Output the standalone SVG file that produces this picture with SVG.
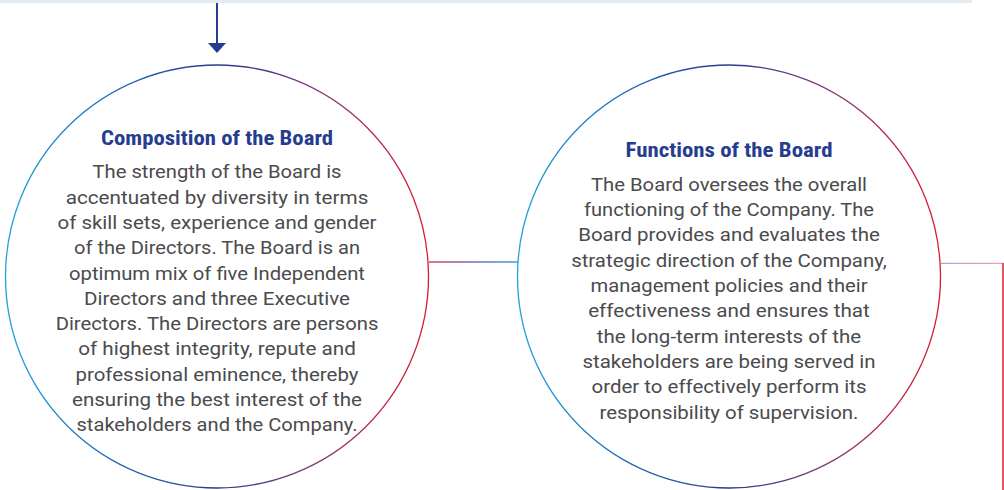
<svg xmlns="http://www.w3.org/2000/svg" width="1004" height="490" viewBox="0 0 1004 490">
<defs>
<linearGradient id="ring" x1="0" y1="0" x2="1" y2="0">
<stop offset="0" stop-color="#1ba3de"/>
<stop offset="0.5" stop-color="#2b3a8f"/>
<stop offset="0.75" stop-color="#8a3a78"/>
<stop offset="1" stop-color="#dc1c2c"/>
</linearGradient>
<linearGradient id="mid" gradientUnits="userSpaceOnUse" x1="429" y1="0" x2="518" y2="0">
<stop offset="0" stop-color="#d2475c"/>
<stop offset="0.5" stop-color="#6f72b2"/>
<stop offset="1" stop-color="#3aa2d8"/>
</linearGradient>
<linearGradient id="side" gradientUnits="userSpaceOnUse" x1="941" y1="0" x2="1003" y2="0">
<stop offset="0" stop-color="#a4acd2"/>
<stop offset="1" stop-color="#f0a2ac"/>
</linearGradient>
</defs>
<style>
.ring{fill:none;stroke:url(#ring);stroke-width:1.3}
.title{font-family:"Liberation Sans Narrow","Roboto Condensed",Roboto,sans-serif;font-weight:bold;font-size:21px;fill:#263d8f;text-anchor:middle}
.body{font-family:Roboto,"Liberation Sans",sans-serif;font-size:18px;fill:#4b4b4d;text-anchor:middle}
</style>
<rect x="0" y="0" width="972" height="3" fill="#e2ebf1"/>
<g id="connectors">
<line x1="217" y1="3" x2="217" y2="44" stroke="#263d8f" stroke-width="2"/>
<polygon points="208,43 226,43 217,53" fill="#263d8f"/>
<line x1="429" y1="262" x2="518" y2="262" stroke="url(#mid)" stroke-width="1.6"/>
<line x1="941" y1="263.3" x2="1003" y2="263.3" stroke="url(#side)" stroke-width="1.2"/>
<line x1="1003" y1="263" x2="1003" y2="490" stroke="#d8202f" stroke-width="1.5"/>
</g>
<g id="composition">
<circle class="ring" cx="217" cy="276.5" r="211.5"/>
<text class="title" x="217" y="145" textLength="232" lengthAdjust="spacingAndGlyphs">Composition of the Board</text>
<text class="body" x="217" y="178.3" textLength="249" lengthAdjust="spacingAndGlyphs">The strength of the Board is</text>
<text class="body" x="217" y="203.6" textLength="302.7" lengthAdjust="spacingAndGlyphs">accentuated by diversity in terms</text>
<text class="body" x="217" y="228.9" textLength="319" lengthAdjust="spacingAndGlyphs">of skill sets, experience and gender</text>
<text class="body" x="217" y="254.2" textLength="286" lengthAdjust="spacingAndGlyphs">of the Directors. The Board is an</text>
<text class="body" x="217" y="279.5" textLength="296" lengthAdjust="spacingAndGlyphs">optimum mix of five Independent</text>
<text class="body" x="217" y="304.8" textLength="266" lengthAdjust="spacingAndGlyphs">Directors and three Executive</text>
<text class="body" x="217" y="330.1" textLength="322.7" lengthAdjust="spacingAndGlyphs">Directors. The Directors are persons</text>
<text class="body" x="217" y="355.4" textLength="277.7" lengthAdjust="spacingAndGlyphs">of highest integrity, repute and</text>
<text class="body" x="217" y="380.7" textLength="283" lengthAdjust="spacingAndGlyphs">professional eminence, thereby</text>
<text class="body" x="217" y="406" textLength="290" lengthAdjust="spacingAndGlyphs">ensuring the best interest of the</text>
<text class="body" x="217" y="431.3" textLength="281" lengthAdjust="spacingAndGlyphs">stakeholders and the Company.</text>
</g>
<g id="functions">
<circle class="ring" cx="729" cy="276.5" r="211.5"/>
<text class="title" x="729" y="156.7" textLength="207" lengthAdjust="spacingAndGlyphs">Functions of the Board</text>
<text class="body" x="729" y="190.8" textLength="276" lengthAdjust="spacingAndGlyphs">The Board oversees the overall</text>
<text class="body" x="729" y="216.1" textLength="290" lengthAdjust="spacingAndGlyphs">functioning of the Company. The</text>
<text class="body" x="729" y="241.4" textLength="301.7" lengthAdjust="spacingAndGlyphs">Board provides and evaluates the</text>
<text class="body" x="729" y="266.7" textLength="315.7" lengthAdjust="spacingAndGlyphs">strategic direction of the Company,</text>
<text class="body" x="729" y="292" textLength="277" lengthAdjust="spacingAndGlyphs">management policies and their</text>
<text class="body" x="729" y="317.3" textLength="281.7" lengthAdjust="spacingAndGlyphs">effectiveness and ensures that</text>
<text class="body" x="729" y="342.6" textLength="264.3" lengthAdjust="spacingAndGlyphs">the long-term interests of the</text>
<text class="body" x="729" y="367.9" textLength="293" lengthAdjust="spacingAndGlyphs">stakeholders are being served in</text>
<text class="body" x="729" y="393.2" textLength="275" lengthAdjust="spacingAndGlyphs">order to effectively perform its</text>
<text class="body" x="729" y="418.5" textLength="259" lengthAdjust="spacingAndGlyphs">responsibility of supervision.</text>
</g>
</svg>
